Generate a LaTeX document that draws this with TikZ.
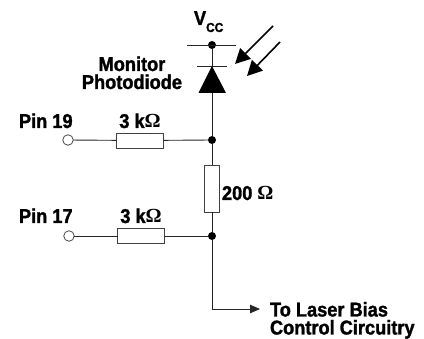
\documentclass[tikz,border=0pt]{standalone}
\usepackage{fontspec}
\setmainfont[FakeStretch=0.91,BoldFeatures={FakeBold=1.5}]{Liberation Sans}
\newfontfamily\ohmfont{Liberation Serif}
\usetikzlibrary{arrows.meta}
\newcommand{\ohm}{{\ohmfont\bfseries\char"03A9}}
\tikzset{
every node/.style = {inner sep=0pt, outer sep=0pt},
wire/.style = {line width=0.9pt, black!85},
dot/.style = {shape=circle, fill=black, minimum size=8pt},
pin/.style = {shape=circle, draw=black!80, fill=white, line width=0.7pt, minimum size=10.5pt},
resistor/.style = {shape=rectangle, draw=black!75, fill=white, line width=0.9pt},
lbl/.style = {font=\fontsize{20}{18}\selectfont\bfseries, align=left},
ray/.style = {line width=1.6pt, -{Triangle[length=15pt,width=15pt]}}
}
\begin{document}
\begin{tikzpicture}[x=1pt,y=-1pt]
\useasboundingbox (0,0) rectangle (424,339);
\node[dot] (vcc) at (212,45) {};
\coordinate (cathode) at (212,66);
\coordinate (anode) at (212,93);
\node[dot] (top) at (212,140) {};
\node[dot] (bottom) at (212,236) {};
\node[pin] (pin19) at (68,140) {};
\node[pin] (pin17) at (69,236) {};
\node[resistor, minimum width=47pt, minimum height=15pt] (r19) at (140,140.5) {};
\node[resistor, minimum width=47pt, minimum height=15pt] (r17) at (141,236) {};
\node[resistor, minimum width=15pt, minimum height=47pt] (r200) at (212,188.5) {};
\coordinate (corner) at (212,309);
\coordinate (out) at (260,309);
% bars
\coordinate (barA) at (187,45);
\coordinate (barB) at (236,45);
\coordinate (barC) at (197,66);
\coordinate (barD) at (227,66);
\draw[wire] (barA) -- (barB);
\draw[wire] (barC) -- (barD);
\draw[wire] (vcc) -- (cathode);
\fill (cathode) -- (226,93) -- (198.5,93) -- cycle;
\draw[wire] (anode) -- (top);
\draw[wire] (top) -- (r200);
\draw[wire] (r200) -- (bottom);
\draw[wire] (pin19) -- (r19);
\draw[wire] (r19) -- (top);
\draw[wire] (pin17) -- (r17);
\draw[wire] (r17) -- (bottom);
\draw[wire] (bottom) -- (corner);
\draw[wire, -{Triangle[length=10pt,width=8.5pt]}] (corner) -- (out);
% light
\coordinate (rayA) at (273,26);
\coordinate (tipA) at (235,64);
\coordinate (rayB) at (280,42);
\coordinate (tipB) at (247,76);
\draw[ray] (rayA) -- (tipA);
\draw[ray] (rayB) -- (tipB);
% labels
\node[lbl, anchor=base west] (vcclabel) at (194,25) {V\raisebox{-7pt}{\fontsize{13}{13}\selectfont CC}};
\node[lbl, anchor=base east, align=center] (monitor) at (182,89) {Monitor\\ Photodiode};
\node[lbl, anchor=base west] (pin19label) at (19,128) {Pin 19};
\node[lbl, anchor=base west] (pin17label) at (19,223) {Pin 17};
\node[lbl, anchor=base] (r19label) at (140,128) {3 k\ohm};
\node[lbl, anchor=base] (r17label) at (141,223) {3 k\ohm};
\node[lbl, anchor=base west] (r200label) at (222,200) {200 \ohm};
\node[lbl, anchor=north west] (outlabel) at (270,302) {To Laser Bias\\ Control Circuitry};
\end{tikzpicture}
\end{document}
